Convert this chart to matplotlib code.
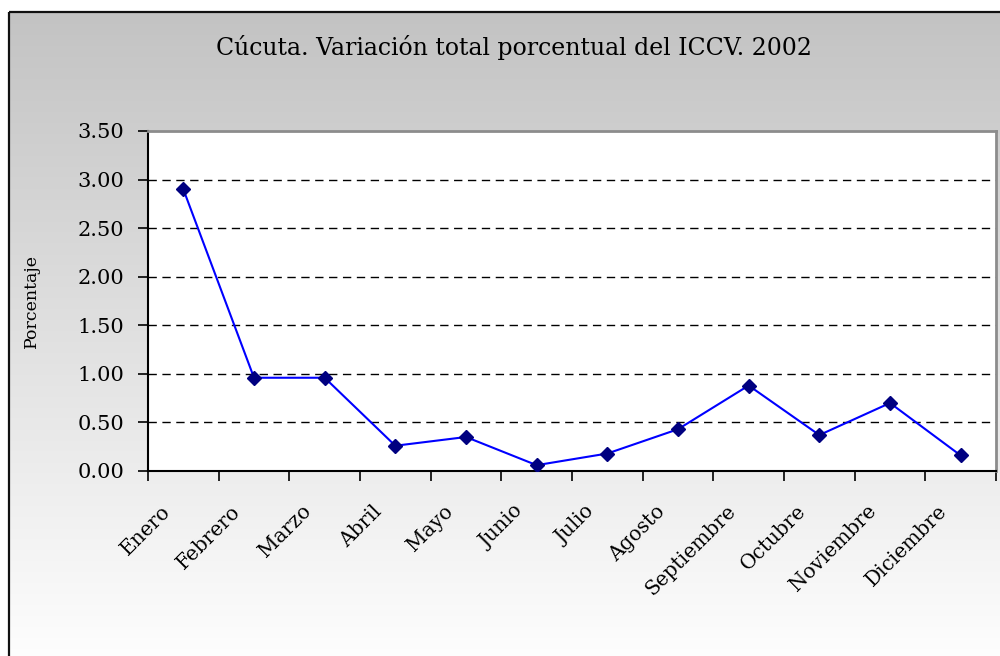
import numpy as np
import matplotlib.pyplot as plt
from matplotlib.patches import Rectangle
from matplotlib.colors import LinearSegmentedColormap
import matplotlib.transforms as mtransforms

meses = ["Enero", "Febrero", "Marzo", "Abril", "Mayo", "Junio", "Julio",
         "Agosto", "Septiembre", "Octubre", "Noviembre", "Diciembre"]
variacion = [2.90, 0.96, 0.96, 0.26, 0.35, 0.06, 0.18, 0.43, 0.88, 0.37, 0.70, 0.16]
yticks = [0.0, 0.5, 1.0, 1.5, 2.0, 2.5, 3.0, 3.5]

W, H = 1000, 656
fig = plt.figure(figsize=(W / 100, H / 100), dpi=100)
fig.patch.set_facecolor("white")

# gradient chart area behind everything
bg = fig.add_axes([0, 0, 1, 1], zorder=-10)
bg.set_xlim(0, W)
bg.set_ylim(H, 0)
bg.axis("off")
grad = np.linspace(0, 1, 256).reshape(-1, 1)
bg.imshow(grad, cmap=LinearSegmentedColormap.from_list("g", ["#c3c3c3", "#fefefe"]),
          aspect="auto", extent=(9, W + 5, H + 5, 12), zorder=0)
bg.add_patch(Rectangle((9, 12), W, H, fill=False, edgecolor="#111111", lw=1.6, zorder=1))

# plot area in pixels
x0, x1, y0, y1 = 148, 996, 131, 471
ax = fig.add_axes([x0 / W, 1 - y1 / H, (x1 - x0) / W, (y1 - y0) / H])
ax.set_facecolor("white")

x = np.arange(len(meses))
ax.plot(x, variacion, color="#0000ff", lw=1.5, zorder=3)
ax.plot(x, variacion, ls="none", marker="D", ms=7.5, color="#000080", zorder=4)

ax.set_xlim(-0.5, len(meses) - 0.5)
ax.set_ylim(0, 3.5)
ax.set_yticks(yticks)
ax.set_yticklabels([f"{v:.2f}" for v in yticks], family="DejaVu Serif", fontsize=15)
for v in yticks[1:-1]:
    ax.axhline(v, color="black", lw=1, ls=(0, (6, 4)), zorder=1)

ax.set_xticks(x)
ax.set_xticklabels(meses, family="DejaVu Serif", fontsize=14.5, rotation=45,
                   ha="right", rotation_mode="anchor")
ax.set_xticks(np.arange(len(meses) + 1) - 0.5, minor=True)
ax.tick_params(axis="x", which="major", length=0, pad=22)
ax.tick_params(axis="x", which="minor", length=7, width=1.2, direction="out")
ax.tick_params(axis="y", length=7, width=1.2, direction="out", pad=10)
shift = mtransforms.ScaledTranslation(-23 / 100, 0, fig.dpi_scale_trans)
for lab in ax.get_xticklabels():
    lab.set_transform(lab.get_transform() + shift)

for s in ["top", "right"]:
    ax.spines[s].set_color("#8c8c8c")
    ax.spines[s].set_linewidth(2)
for s in ["left", "bottom"]:
    ax.spines[s].set_color("black")
    ax.spines[s].set_linewidth(1.5)

ax.set_ylabel("Porcentaje", family="DejaVu Serif", fontsize=12.5)
ax.yaxis.set_label_coords(-(x0 - 40) / (x1 - x0), 0.5)
fig.text(0.5135, 1 - 47 / H, "Cúcuta. Variación total porcentual del ICCV. 2002",
         family="DejaVu Serif", fontsize=17, ha="center", va="center")

fig.savefig("out.png", dpi=100)
